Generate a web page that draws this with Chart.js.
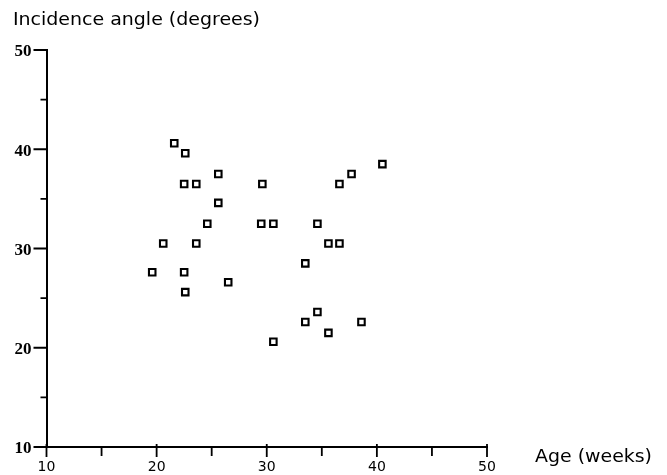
<!DOCTYPE html>
<html>
<head>
<meta charset="utf-8">
<script src="https://cdn.jsdelivr.net/npm/chart.js@4/dist/chart.umd.min.js"></script>
<style>
  html, body { margin: 0; padding: 0; background: #fff; }
  #wrap { width: 667px; height: 475px; position: relative; }
</style>
</head>
<body>
<div id="wrap"><canvas id="c" width="667" height="475"></canvas></div>
<script>
// ---- data ----
const ageWeeks = [19.6, 20.6, 21.6, 22.6, 22.5, 23.6, 22.5, 22.6, 23.6, 24.6, 25.6, 25.6, 26.5, 29.6,
                  29.5, 30.6, 30.6, 33.5, 33.5, 34.6, 34.6, 35.6, 35.6, 36.6, 36.6, 37.7, 38.6, 40.5];
const incidenceAngle = [27.6, 30.5, 40.6, 39.6, 36.5, 36.5, 27.6, 25.6, 30.5, 32.5, 37.5, 34.6, 26.6, 36.5,
                        32.5, 32.5, 20.6, 28.5, 22.6, 32.5, 23.6, 30.5, 21.5, 30.5, 36.5, 37.5, 22.6, 38.5];
const xMajorTicks = [10, 20, 30, 40, 50];
const xMinorTicks = [15, 25, 35, 45];
const yMajorTicks = [10, 20, 30, 40, 50];
const yMinorTicks = [15, 25, 35, 45];
const yTitle = 'Incidence angle (degrees)';
const xTitle = 'Age (weeks)';

const points = ageWeeks.map((x, i) => ({ x: x, y: incidenceAngle[i] }));

const axisPlugin = {
  id: 'axisDecor',
  afterDraw(chart) {
    const ctx = chart.ctx;
    const xs = chart.scales.x, ys = chart.scales.y;
    const ca = chart.chartArea;
    ctx.save();
    ctx.strokeStyle = '#000';
    ctx.lineWidth = 1.8;
    ctx.beginPath();
    // y ticks (left of axis)
    yMajorTicks.forEach(v => { const p = ys.getPixelForValue(v); ctx.moveTo(ca.left - 13, p); ctx.lineTo(ca.left, p); });
    yMinorTicks.forEach(v => { const p = ys.getPixelForValue(v); ctx.moveTo(ca.left - 6, p); ctx.lineTo(ca.left, p); });
    // x ticks (below axis)
    xMajorTicks.forEach(v => { const p = xs.getPixelForValue(v); ctx.moveTo(p, ca.bottom - 3); ctx.lineTo(p, ca.bottom + 10); });
    xMinorTicks.forEach(v => { const p = xs.getPixelForValue(v); ctx.moveTo(p, ca.bottom); ctx.lineTo(p, ca.bottom + 9); });
    ctx.stroke();

    // axis titles
    ctx.fillStyle = '#000';
    ctx.textBaseline = 'alphabetic';
    ctx.textAlign = 'left';
    ctx.font = '17px "DejaVu Sans"';
    let w = ctx.measureText(yTitle).width;
    ctx.save();
    ctx.translate(13, 25);
    ctx.scale(247 / w, 1);
    ctx.fillText(yTitle, 0, 0);
    ctx.restore();
    ctx.font = '17px "DejaVu Sans"';
    w = ctx.measureText(xTitle).width;
    ctx.save();
    ctx.translate(535, 462);
    ctx.scale(117 / w, 1);
    ctx.fillText(xTitle, 0, 0);
    ctx.restore();
    ctx.restore();
  }
};

new Chart(document.getElementById('c'), {
  type: 'scatter',
  data: {
    datasets: [{
      data: points,
      pointStyle: 'rect',
      pointRadius: 4.6,
      pointHoverRadius: 4.6,
      pointBorderWidth: 2.1,
      pointBorderColor: '#000',
      pointBackgroundColor: '#fff'
    }]
  },
  options: {
    responsive: false,
    animation: false,
    events: [],
    layout: { padding: { left: 0, top: 50, right: 180, bottom: 0 } },
    plugins: { legend: { display: false }, tooltip: { enabled: false }, title: { display: false } },
    scales: {
      x: {
        type: 'linear',
        min: 10, max: 50,
        afterFit(scale) { scale.height = 28; },
        grid: { display: false, drawTicks: false },
        border: { display: true, color: '#000', width: 2 },
        ticks: {
          stepSize: 10,
          padding: 12,
          color: '#000',
          font: { family: '"DejaVu Sans"', size: 14 },
          maxRotation: 0
        }
      },
      y: {
        type: 'linear',
        min: 10, max: 50,
        afterFit(scale) { scale.width = 46.5; },
        grid: { display: false, drawTicks: false },
        border: { display: true, color: '#000', width: 2 },
        ticks: {
          stepSize: 10,
          padding: 15,
          labelOffset: 2,
          color: '#000',
          font: { family: '"Liberation Serif"', size: 17, weight: 'bold' }
        }
      }
    }
  },
  plugins: [axisPlugin]
});
</script>
</body>
</html>
